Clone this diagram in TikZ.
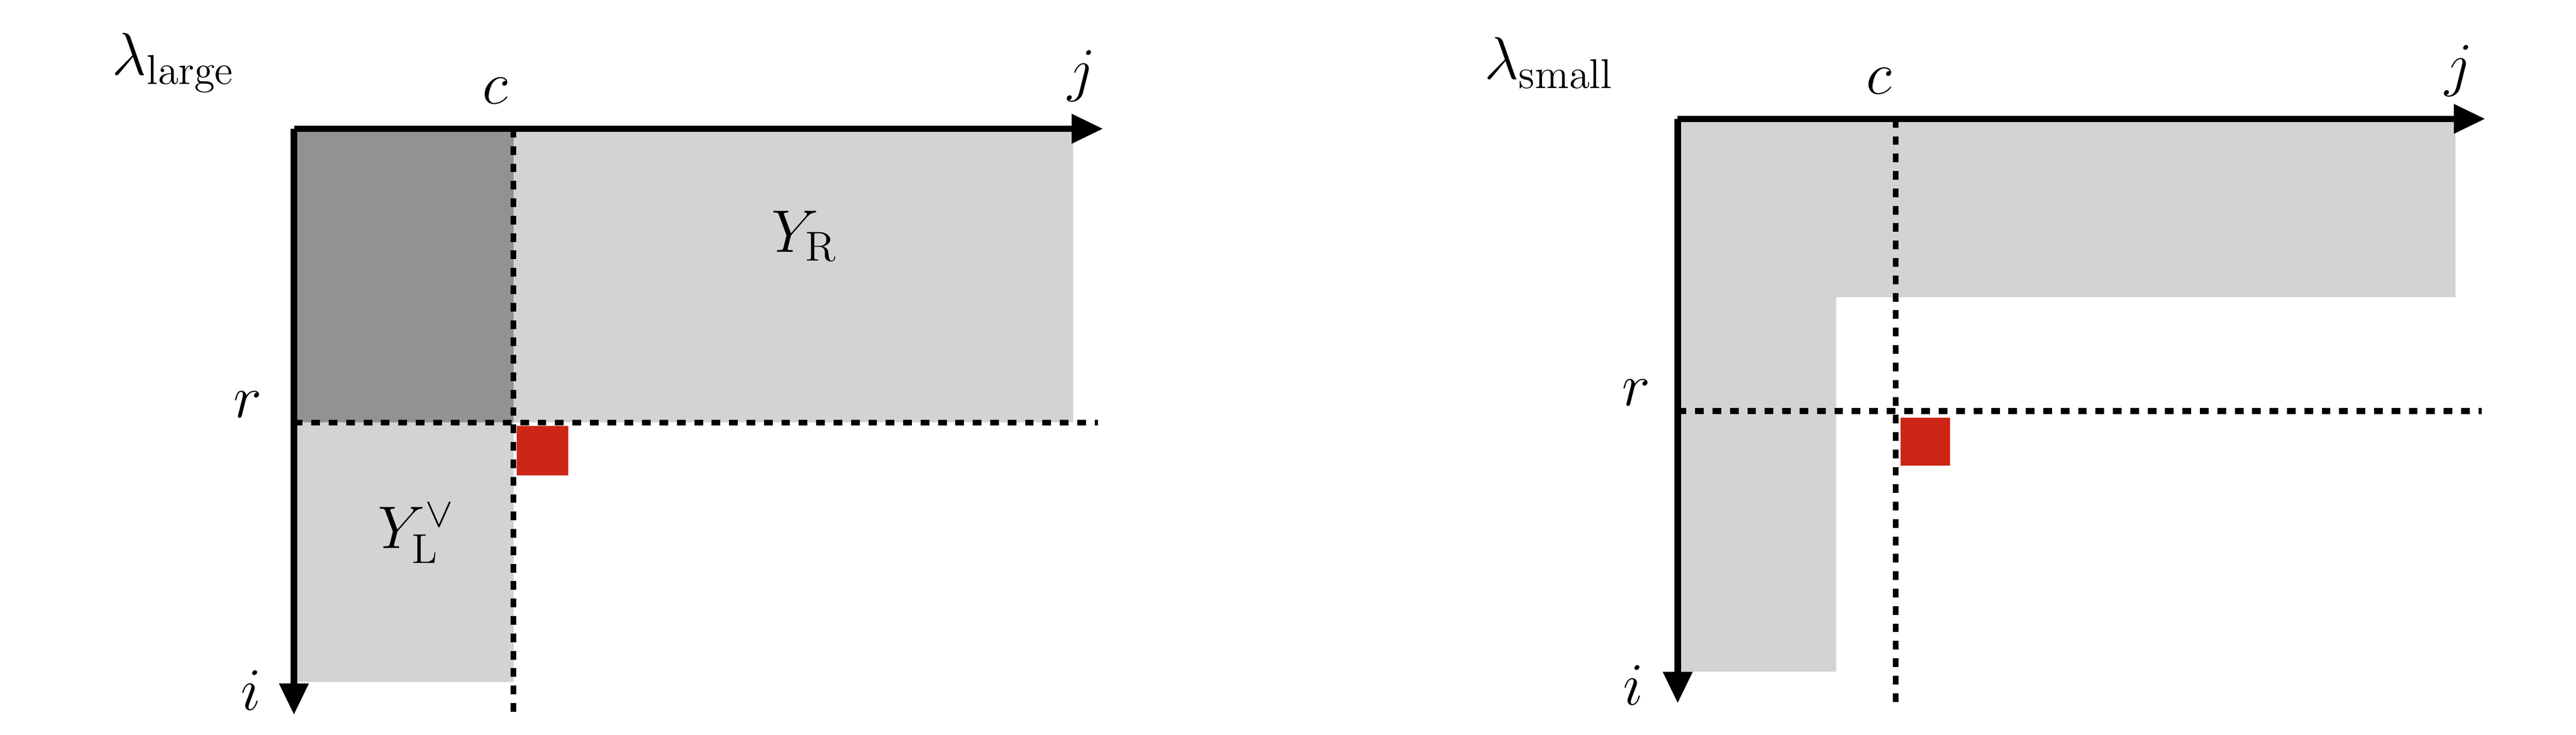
\documentclass[tikz,border=0pt]{standalone}
\usetikzlibrary{arrows.meta}
\definecolor{lightgr}{RGB}{211,211,211}
\definecolor{darkgr}{RGB}{146,146,146}
\definecolor{cellred}{RGB}{204,38,22}
\tikzset{
  axis/.style={line width=2.2pt,-{Triangle[length=0.38cm,width=0.34cm]}},
  guide/.style={line width=2pt,dash pattern=on 3pt off 3pt},
  lab/.style={font=\huge}
}
\begin{document}
\begin{tikzpicture}[x=0.02cm,y=-0.02cm]
  \useasboundingbox (0,0) rectangle (1560,445);

  % large partition
  \fill[lightgr] (178,78) rectangle (650,256);
  \fill[lightgr] (178,256) rectangle (311,413);
  \fill[darkgr] (178,78) rectangle (311,256);
  \fill[cellred] (313,258) rectangle (344,288);
  \coordinate (o1) at (178,78);
  \coordinate (j1) at (668,78);
  \coordinate (i1) at (178,433);
  \draw[guide] (311,78) -- (311,433);
  \draw[guide] (178,256) -- (665,256);
  \draw[axis] (o1) -- (j1);
  \draw[axis] (o1) -- (i1);
  \node[lab] (lam1) at (105,38) {$\lambda_{\mathrm{large}}$};
  \node[lab] (c1) at (300,55) {$c$};
  \node[lab] (jl1) at (655,46) {$j$};
  \node[lab] (r1) at (150,245) {$r$};
  \node[lab] (il1) at (152,418) {$i$};
  \node[lab] (yr) at (487,143) {$Y_{\mathrm{R}}$};
  \node[lab] (yl) at (252,323) {$Y_{\mathrm{L}}^{\vee}$};

  % small partition
  \fill[lightgr] (1016,72) rectangle (1487,180);
  \fill[lightgr] (1016,72) rectangle (1112,407);
  \fill[cellred] (1151,253) rectangle (1181,282);
  \coordinate (o2) at (1016,72);
  \coordinate (j2) at (1505,72);
  \coordinate (i2) at (1016,426);
  \draw[guide] (1148,72) -- (1148,430);
  \draw[guide] (1016,249) -- (1503,249);
  \draw[axis] (o2) -- (j2);
  \draw[axis] (o2) -- (i2);
  \node[lab] (lam2) at (938,38) {$\lambda_{\mathrm{small}}$};
  \node[lab] (c2) at (1138,49) {$c$};
  \node[lab] (jl2) at (1489,43) {$j$};
  \node[lab] (r2) at (991,238) {$r$};
  \node[lab] (il2) at (989,415) {$i$};
\end{tikzpicture}
\end{document}
